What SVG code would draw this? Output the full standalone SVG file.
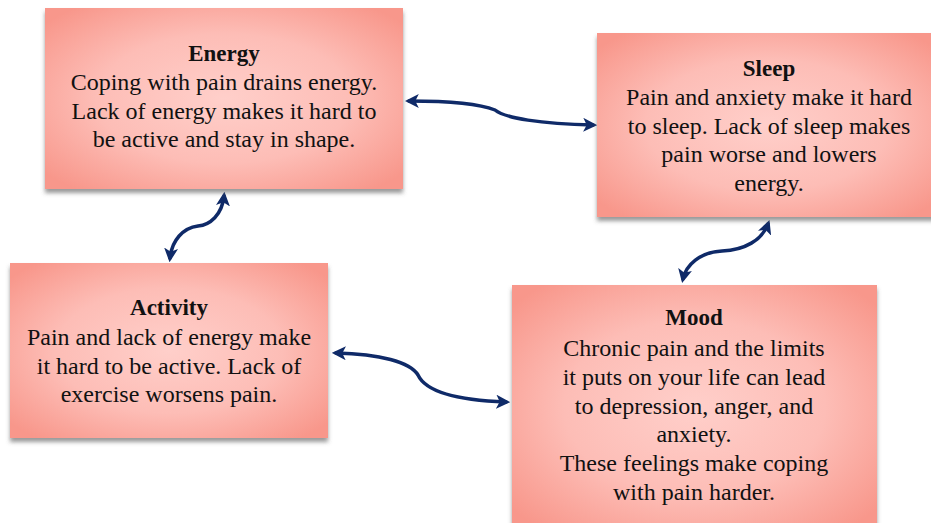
<svg xmlns="http://www.w3.org/2000/svg" width="931" height="523" viewBox="0 0 931 523">
<style>
.box{fill:url(#g);filter:url(#sh)}
text{font-family:"Liberation Serif","Times New Roman",serif;font-size:24px;fill:#111;text-anchor:middle}
.t{font-weight:bold;font-size:23px}
.c{fill:none;stroke:#0f2a68;stroke-width:3.5;stroke-linecap:round;marker-start:url(#ah);marker-end:url(#ah)}
</style>
<defs>
<radialGradient id="g" cx="50%" cy="50%" r="65%">
<stop offset="0" stop-color="#ffcfca"/>
<stop offset="0.55" stop-color="#fdbdb6"/>
<stop offset="1" stop-color="#f8978b"/>
</radialGradient>
<filter id="sh" x="-5%" y="-5%" width="110%" height="115%">
<feDropShadow dx="0" dy="4" stdDeviation="2" flood-color="#555" flood-opacity="0.6"/>
</filter>
<marker id="ah" viewBox="0 0 10 10" refX="7" refY="5" markerWidth="4" markerHeight="4" orient="auto-start-reverse" markerUnits="strokeWidth">
<path d="M0,0 L10,5 L0,10 L2.5,5 Z" fill="#0f2a68"/>
</marker>
</defs>
<g id="connectors">
<path class="c" d="M 409 101 C 450 101 480 104 495 110 C 505 118 540 124 593 125"/>
<path class="c" d="M 224 196 C 222 215 210 225 198 226 C 183 228 172 240 170 258"/>
<path class="c" d="M 768 224 C 762 240 745 250 722 251 C 700 252 686 265 683 279"/>
<path class="c" d="M 336 353 C 380 354 410 362 418 375 C 425 390 450 400 506 402"/>
</g>
<g id="energy">
<rect class="box" x="45" y="8" width="358" height="181"/>
<text class="t" x="224" y="61">Energy</text>
<text x="224" y="90">Coping with pain drains energy.</text>
<text x="224" y="119">Lack of energy makes it hard to</text>
<text x="224" y="147">be active and stay in shape.</text>
</g>
<g id="sleep">
<rect class="box" x="597" y="33" width="340" height="184"/>
<text class="t" x="769" y="76">Sleep</text>
<text x="769" y="105">Pain and anxiety make it hard</text>
<text x="769" y="134">to sleep. Lack of sleep makes</text>
<text x="769" y="162">pain worse and lowers</text>
<text x="769" y="191">energy.</text>
</g>
<g id="activity">
<rect class="box" x="10" y="263" width="318" height="175"/>
<text class="t" x="169" y="315">Activity</text>
<text x="169" y="345">Pain and lack of energy make</text>
<text x="169" y="374">it hard to be active. Lack of</text>
<text x="169" y="402">exercise worsens pain.</text>
</g>
<g id="mood">
<rect class="box" x="512" y="285" width="365" height="245"/>
<text class="t" x="694" y="325">Mood</text>
<text x="694" y="356">Chronic pain and the limits</text>
<text x="694" y="385">it puts on your life can lead</text>
<text x="694" y="414">to depression, anger, and</text>
<text x="694" y="442">anxiety.</text>
<text x="694" y="471">These feelings make coping</text>
<text x="694" y="500">with pain harder.</text>
</g>
</svg>
